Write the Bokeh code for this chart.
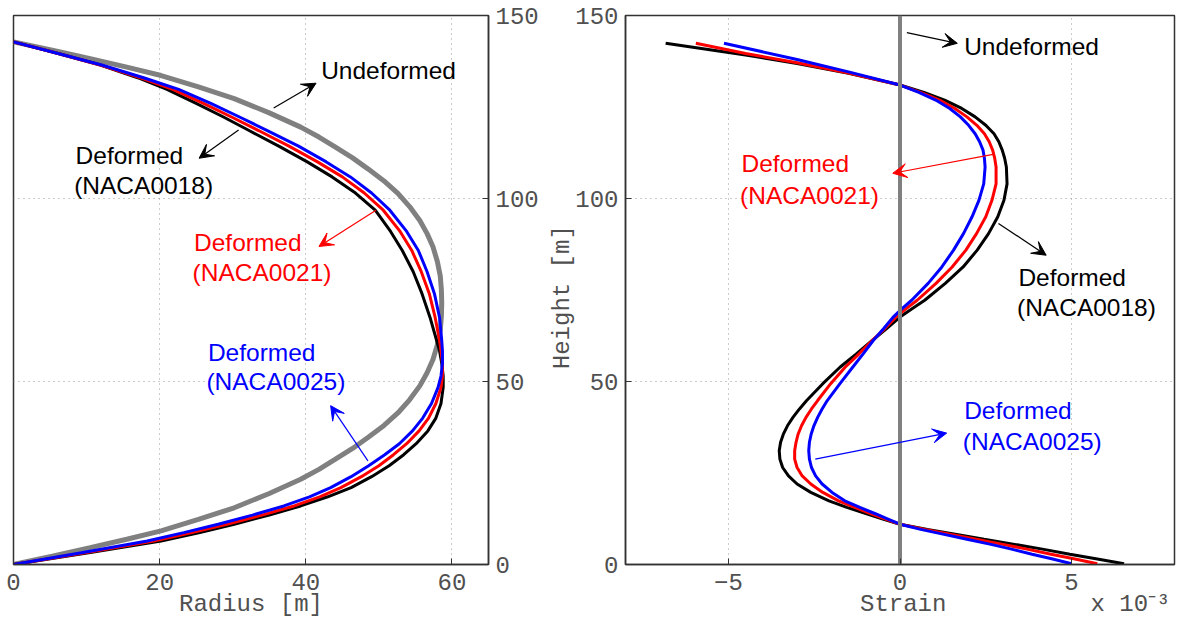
import math

from bokeh.plotting import figure
from bokeh.layouts import row
from bokeh.models import Label, Arrow, VeeHead, FixedTicker
from bokeh.embed import file_html
from bokeh.resources import INLINE

# ---------------- Blade shape: radius [m] against height [m] ----------------
undeformed_h = [0, 2.3, 4.6, 6.9, 9.2, 12.3, 15.5, 19.4, 23.3, 26.0, 28.7, 31.7, 34.7,
                38.0, 41.4, 45.0, 48.8, 52.4, 56.0, 60.0, 64.0, 67.7, 71.4,
                75.1, 78.8, 82.8, 86.8, 90.4, 94.0, 97.8, 101.4, 104.8, 108.1, 111.1,
                114.1, 116.8, 119.5, 123.4, 127.3, 130.5, 133.6, 135.9, 138.2, 140.5, 142.8]
undeformed_r = [0, 5.3, 10.5, 15.5, 20.2, 25.3, 30.2, 35.0, 39.3, 41.8, 44.0, 46.4, 48.5,
                50.7, 52.6, 54.2, 55.6, 56.6, 57.4, 58.0, 58.4, 58.55, 58.6,
                58.55, 58.4, 58.0, 57.4, 56.6, 55.6, 54.2, 52.6, 50.7, 48.5, 46.4,
                44.0, 41.8, 39.3, 35.0, 30.2, 25.3, 20.2, 15.5, 10.5, 5.3, 0]

deformed_h = [0, 3.2, 6.4, 8.7, 11.0, 13.5, 16.0, 18.5, 21.0, 24.0, 27.0, 30.0, 33.0,
              36.5, 40.0, 44.0, 48.4, 51.5, 55.0, 58.4, 61.2, 67.5, 74.0, 80.0, 85.8,
              91.0, 96.8, 101.5, 105.9, 110.0, 114.3, 118.5, 122.2, 126.0, 129.8,
              133.0, 136.4, 139.6, 142.8]
naca0018_r = [0, 10.3, 20.2, 25.5, 30.2, 35.0, 39.3, 43.0, 46.2, 49.0, 51.4, 53.4, 55.1,
              56.7, 57.8, 58.5, 58.8, 58.8, 58.6, 58.3, 57.9, 57.0, 55.9, 54.7, 53.2,
              51.6, 49.5, 46.8, 43.6, 40.2, 36.3, 32.3, 28.8, 25.0, 21.0,
              17.0, 12.0, 6.1, 0]
naca0021_r = [0, 9.8, 19.2, 24.4, 29.2, 34.0, 38.4, 41.9, 44.8, 47.6, 50.0, 52.0, 53.8,
              55.5, 56.8, 57.8, 58.5, 58.7, 58.7, 58.5, 58.3, 57.7, 56.9, 55.8, 54.5,
              52.9, 50.6, 48.0, 45.0, 41.6, 37.7, 33.6, 29.9, 26.0, 21.8,
              17.4, 12.0, 6.1, 0]
naca0025_r = [0, 9.3, 18.3, 23.3, 28.0, 32.7, 37.0, 40.5, 43.4, 46.2, 48.6, 50.8, 52.8,
              54.6, 56.0, 57.2, 58.1, 58.5, 58.7, 58.7, 58.6, 58.3, 57.6, 56.6, 55.4,
              53.8, 51.5, 49.0, 46.1, 42.8, 39.0, 34.8, 31.0, 27.0, 22.6,
              17.8, 12.2, 6.1, 0]

radius_ticks = [0, 20, 40, 60]
height_ticks = [0, 50, 100, 150]

# ---------------- Strain (x 1e-3) against height [m] ----------------
naca0018_strain_h = [0.2, 1.5, 2.8, 4.2, 5.5, 6.9, 8.3, 9.6, 11.0, 12.4, 13.8, 15.6, 17.4,
                     19.7, 22.0, 24.2, 26.5, 28.8, 31.1, 33.4, 35.6, 37.9, 40.2, 42.5,
                     44.8, 49.4, 53.9, 57.5, 61.2, 64.4, 67.6, 69.9, 72.2, 76.8, 81.3,
                     85.9, 90.4, 95.0, 99.5, 104.0, 108.6, 111.0, 113.2, 115.5, 117.7,
                     120.0, 122.3, 124.6, 126.9, 129.0, 131.0, 134.2, 136.9, 139.2, 142.4]
naca0018_strain = [6.53, 5.75, 4.95, 4.15, 3.34, 2.45, 1.61, 0.8, 0.0, -0.5, -0.95, -1.55, -2.07,
                   -2.6, -3.0, -3.25, -3.42, -3.5, -3.52, -3.48, -3.40, -3.28, -3.12, -2.93,
                   -2.72, -2.25, -1.75, -1.28, -0.81, -0.4, 0.0, 0.35, 0.72, 1.32, 1.84,
                   2.25, 2.58, 2.85, 3.03, 3.12, 3.10, 3.05, 2.98, 2.88, 2.74,
                   2.5, 2.19, 1.8, 1.30, 0.7, 0.0, -1.5, -3.0, -4.5, -6.83]

naca0021_strain_h = [0.2, 1.5, 2.8, 4.2, 5.5, 6.9, 8.3, 9.6, 11.0, 12.4, 13.8, 15.6, 17.4,
                     19.7, 22.0, 24.2, 26.5, 28.8, 31.1, 33.4, 35.6, 37.9, 40.2, 42.5,
                     44.8, 49.4, 53.9, 57.5, 61.2, 64.4, 67.6, 69.9, 72.2, 76.8, 81.3,
                     85.9, 90.4, 95.0, 99.5, 104.0, 108.6, 111.0, 113.2, 115.5, 117.7,
                     120.0, 122.3, 124.6, 126.9, 129.0, 131.0, 134.3, 137.1, 139.6, 142.4]
naca0021_strain = [5.75, 5.1, 4.4, 3.7, 3.0, 2.22, 1.45, 0.72, 0.0, -0.42, -0.82, -1.32, -1.79,
                   -2.25, -2.6, -2.85, -3.0, -3.07, -3.07, -3.03, -2.97, -2.87, -2.74, -2.58,
                   -2.40, -2.02, -1.6, -1.2, -0.81, -0.45, -0.12, 0.18, 0.5, 1.05, 1.52,
                   1.92, 2.23, 2.5, 2.68, 2.8, 2.8, 2.76, 2.70, 2.6, 2.46,
                   2.24, 1.95, 1.6, 1.15, 0.6, 0.0, -1.5, -3.0, -4.5, -5.95]

naca0025_strain_h = [0.2, 1.5, 2.8, 4.2, 5.5, 6.9, 8.3, 9.6, 11.0, 12.4, 13.8, 15.6, 17.4,
                     19.7, 22.0, 24.2, 26.5, 28.8, 31.1, 33.4, 35.6, 37.9, 40.2, 42.5,
                     44.8, 49.4, 53.9, 57.5, 61.2, 64.4, 67.6, 69.9, 72.2, 76.8, 81.3,
                     85.9, 90.4, 95.0, 99.5, 104.0, 108.6, 111.0, 113.2, 115.5, 117.7,
                     120.0, 122.3, 124.6, 126.9, 129.0, 131.0, 134.6, 138.0, 142.4]
naca0025_strain = [5.0, 4.45, 3.85, 3.25, 2.65, 1.95, 1.25, 0.6, 0.0, -0.35, -0.7, -1.17, -1.61,
                   -1.98, -2.27, -2.46, -2.58, -2.64, -2.66, -2.64, -2.59, -2.51, -2.40, -2.27,
                   -2.12, -1.75, -1.38, -1.08, -0.78, -0.48, -0.2, 0.06, 0.34, 0.82, 1.22,
                   1.56, 1.85, 2.1, 2.3, 2.44, 2.48, 2.46, 2.42, 2.32, 2.19,
                   2.0, 1.76, 1.45, 1.04, 0.55, 0.0, -1.5, -3.0, -5.13]

undeformed_strain = [0, 0]
undeformed_strain_h = [0, 150]

strain_ticks = [-5, 0, 5]
strain_tick_labels = {-5: "\u22125", 0: "0", 5: "5"}

BLACK, RED, BLUE, GRAY = "#000000", "#ff0000", "#0000ff", "#808080"
TICK_FONT = "Liberation Mono"
TEXT_FONT = "Liberation Sans"
TICK_COLOR = "#505050"
NBSP = "\u00a0"


def style(p):
    p.outline_line_color = "#333333"
    p.outline_line_width = 1.5
    p.background_fill_color = "white"
    p.border_fill_color = "white"
    for ax in p.axis:
        ax.axis_line_color = "#333333"
        ax.axis_line_width = 1.5
        ax.major_tick_in = 6
        ax.major_tick_out = 0
        ax.minor_tick_in = 0
        ax.minor_tick_out = 0
        ax.major_tick_line_color = "#333333"
        ax.major_label_text_font = TICK_FONT
        ax.major_label_text_font_size = "24px"
        ax.major_label_text_color = TICK_COLOR
        ax.axis_label_text_font = TICK_FONT
        ax.axis_label_text_font_size = "24px"
        ax.axis_label_text_font_style = "normal"
        ax.axis_label_text_color = TICK_COLOR
    p.grid.grid_line_color = "#999999"
    p.grid.grid_line_dash = "1 4"
    p.grid.grid_line_width = 1


def note(p, x, y, text, color):
    p.add_layout(Label(x=x, y=y, text=text, text_color=color, text_font=TEXT_FONT,
                       text_font_size="24.5px", text_baseline="middle"))


def pointer(p, x0, y0, x1, y1, color):
    p.add_layout(Arrow(x_start=x0, y_start=y0, x_end=x1, y_end=y1,
                       line_color=color, line_width=1.2,
                       end=VeeHead(size=14, fill_color=color, line_color=color)))


# ---------------- left panel ----------------
p1 = figure(width=542, height=622, x_range=(0, 65), y_range=(0, 150),
            y_axis_location="right", title=None, toolbar_location=None,
            output_backend="svg", min_border_left=13, min_border_right=54,
            min_border_top=15, min_border_bottom=58)
p1.xaxis.ticker = FixedTicker(ticks=radius_ticks)
p1.yaxis.ticker = FixedTicker(ticks=height_ticks)
style(p1)
p1.xaxis.axis_label = "Radius [m]"
p1.xaxis.major_label_standoff = 9
p1.xaxis.axis_label_standoff = -2
p1.yaxis.major_label_standoff = 7

p1.line(undeformed_r, undeformed_h, line_color=GRAY, line_width=5)
p1.line(naca0018_r, deformed_h, line_color=BLACK, line_width=3)
p1.line(naca0021_r, deformed_h, line_color=RED, line_width=3)
p1.line(naca0025_r, deformed_h, line_color=BLUE, line_width=3)

note(p1, 42.1, 135.1, "Undeformed", BLACK)
pointer(p1, 35.6, 124.7, 41.4, 131.5, BLACK)
note(p1, 8.5, 111.8, "Deformed", BLACK)
note(p1, 8.3, 103.6, "(NACA0018)", BLACK)
pointer(p1, 30.8, 118.7, 25.4, 111.0, BLACK)
note(p1, 24.7, 88.1, "Deformed", RED)
note(p1, 24.5, 79.7, "(NACA0021)", RED)
pointer(p1, 49.6, 96.8, 41.8, 86.9, RED)
note(p1, 26.6, 58.0, "Deformed", BLUE)
note(p1, 26.4, 50.0, "(NACA0025)", BLUE)
pointer(p1, 48.5, 28.3, 43.4, 43.4, BLUE)

# ---------------- right panel ----------------
p2 = figure(width=637, height=622, x_range=(-8, 8), y_range=(0, 150),
            title=None, toolbar_location=None, output_backend="svg",
            min_border_left=83, min_border_right=5, min_border_top=15,
            min_border_bottom=58)
p2.xaxis.ticker = FixedTicker(ticks=strain_ticks)
p2.xaxis.major_label_overrides = strain_tick_labels
p2.yaxis.ticker = FixedTicker(ticks=height_ticks)
style(p2)
# strain label in the middle, the 1e-3 multiplier at the right end of the same line
p2.xaxis.axis_label = NBSP * 16 + "Strain" + NBSP * 10 + "x 10\u207b\u00b3"
p2.xaxis.major_label_standoff = 9
p2.xaxis.axis_label_standoff = -2
p2.yaxis.axis_label = "Height [m]" + NBSP
p2.yaxis.major_label_standoff = 7
p2.yaxis.axis_label_standoff = -4

p2.line(naca0018_strain, naca0018_strain_h, line_color=BLACK, line_width=3)
p2.line(naca0021_strain, naca0021_strain_h, line_color=RED, line_width=3)
p2.line(naca0025_strain, naca0025_strain_h, line_color=BLUE, line_width=3)
p2.line(undeformed_strain, undeformed_strain_h, line_color=GRAY, line_width=4)

note(p2, 1.87, 141.5, "Undeformed", BLACK)
pointer(p2, 0.2, 145.3, 1.67, 142.4, BLACK)
note(p2, -4.62, 109.6, "Deformed", RED)
note(p2, -4.66, 100.9, "(NACA0021)", RED)
pointer(p2, 2.75, 112.1, -0.21, 106.9, RED)
note(p2, 3.45, 78.5, "Deformed", BLACK)
note(p2, 3.41, 70.3, "(NACA0018)", BLACK)
pointer(p2, 2.87, 93.2, 4.26, 84.5, BLACK)
note(p2, 1.87, 42.0, "Deformed", BLUE)
note(p2, 1.83, 33.6, "(NACA0025)", BLUE)
pointer(p2, -2.47, 28.8, 1.36, 35.9, BLUE)

layout = row(p1, p2)
open("out.html", "w").write(file_html(layout, INLINE))
